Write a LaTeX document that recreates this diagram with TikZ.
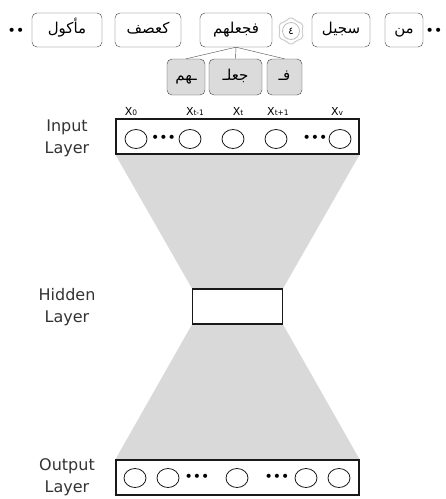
\documentclass[tikz,border=0pt]{standalone}
\usepackage{fontspec}
\setmainfont{DejaVu Sans}
\newfontfamily\arabicfont[Script=Arabic]{DejaVu Sans}
\TeXXeTstate=1
\usepackage{tikz}
\usetikzlibrary{shapes.geometric}
\usetikzlibrary{positioning}
\usetikzlibrary{backgrounds}

\newcommand{\arw}[1]{{\arabicfont\beginR #1\endR}}
\newcommand{\xlbl}[1]{X{\fontsize{7.5}{8}\selectfont #1}}

\begin{document}
\begin{tikzpicture}[
  x=1pt,y=-1pt,
  wordbox/.style={draw=black!75,rounded corners=5pt,minimum height=34pt,inner sep=0pt,text height=11pt,text depth=5pt,font=\fontsize{15}{17}\selectfont\arabicfont},
  partbox/.style={wordbox,fill=black!14,minimum height=36pt},
  layerbox/.style={draw=black!90,line width=1.2pt,fill=white,minimum height=35pt,inner sep=0pt},
  neuron/.style={ellipse,draw=black!90,line width=0.8pt,minimum width=22pt,minimum height=19pt,inner sep=0pt},
  ellip/.style={inner sep=0pt,font=\fontsize{14}{14}\selectfont},
  xlab/.style={inner sep=0pt,font=\fontsize{11}{12}\selectfont},
  lname/.style={align=center,text=black!80,font=\fontsize{16}{22}\selectfont},
  funnel/.style={fill=black!15}
]
\useasboundingbox (0,0) rectangle (446,499);

% verse words
\node[ellip] (dl) at (16,32) {••};
\node[wordbox,minimum width=70pt] (w1) at (67,30) {\arw{مأكول}};
\node[wordbox,minimum width=66pt] (w2) at (148,30) {\arw{كعصف}};
\node[wordbox,minimum width=72pt] (w3) at (236,30) {\arw{فجعلهم}};
\node[star,star points=6,star point ratio=1.25,draw=black!20,line width=1pt,rounded corners=2pt,minimum size=28pt,inner sep=0pt] (ayaframe) at (291,31) {};
\node[circle,draw=black!25,line width=0.8pt,minimum size=17pt,inner sep=0pt,font=\fontsize{10}{10}\selectfont\arabicfont] (aya) at (291,31) {٤};
\node[wordbox,minimum width=58pt] (w4) at (341,30) {\arw{سجيل}};
\node[wordbox,minimum width=38pt] (w5) at (404,30) {\arw{من}};
\node[ellip] (dr) at (434,32) {••};

% segments
\node[partbox,minimum width=38pt] (p1) at (186,77) {\arw{ـهم}};
\node[partbox,minimum width=53pt] (p2) at (235.5,77) {\arw{جعلـ}};
\node[partbox,minimum width=35pt] (p3) at (284.5,77) {\arw{فـ}};
\draw[black!70] (w3.south) -- (p1.north);
\draw[black!70] (w3.south) -- (p2.north);
\draw[black!70] (w3.south) -- (p3.north);

% layers
\node[layerbox,minimum width=243pt] (inp) at (237.5,136.5) {};
\node[layerbox,minimum width=90pt] (hid) at (237.5,306.5) {};
\node[layerbox,minimum width=243pt] (out) at (237.5,477.5) {};

\begin{scope}[on background layer]
\fill[funnel] (inp.south west) -- (inp.south east) -- (hid.north east) -- (hid.north west) -- cycle;
\fill[funnel] (hid.south west) -- (hid.south east) -- (out.north east) -- (out.north west) -- cycle;
\end{scope}

\node[lname] (linp) at (67,138) {Input\\Layer};
\node[lname] (lhid) at (67,307) {Hidden\\Layer};
\node[lname] (lout) at (67,477) {Output\\Layer};

% input units
\node[neuron] (i0) at (136,139) {};
\node[ellip] (id1) at (163.5,139) {•••};
\node[neuron] (i1) at (190,139) {};
\node[neuron] (i2) at (233,139) {};
\node[neuron] (i3) at (276,139) {};
\node[ellip] (id2) at (315,139) {•••};
\node[neuron] (i4) at (340,139) {};

\node[xlab] (x0) at (131,111.5) {\xlbl{0}};
\node[xlab] (x1) at (195,111.5) {\xlbl{t-1}};
\node[xlab] (x2) at (238,111.5) {\xlbl{t}};
\node[xlab] (x3) at (278,111.5) {\xlbl{t+1}};
\node[xlab] (x4) at (337,111.5) {\xlbl{v}};

% output units
\node[neuron] (o0) at (135,478) {};
\node[neuron] (o1) at (168,478) {};
\node[ellip] (od1) at (197,478) {•••};
\node[neuron] (o2) at (237,478) {};
\node[ellip] (od2) at (277,478) {•••};
\node[neuron] (o3) at (306,478) {};
\node[neuron] (o4) at (339,478) {};
\end{tikzpicture}
\end{document}
